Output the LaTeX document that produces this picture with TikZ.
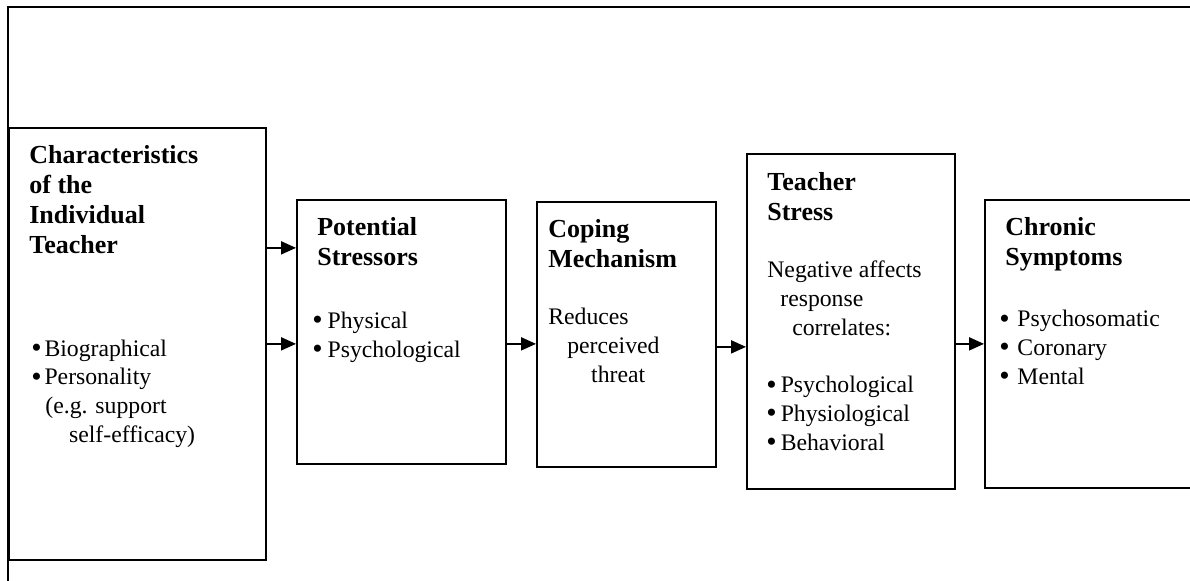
\documentclass[tikz,border=0pt]{standalone}
\usepackage{fontspec}
\setmainfont{Liberation Serif}
\usetikzlibrary{arrows.meta,positioning}
\tikzset
{
    stagebox/.style = {rectangle, draw=black, line width=1pt, anchor=north west, inner sep=0pt},
    heading/.style  = {anchor=base west, align=left, inner sep=0pt, font=\fontsize{14.8}{17}\selectfont\bfseries},
    bodytext/.style = {anchor=base west, align=left, inner sep=0pt, font=\fontsize{13.5}{16.3}\selectfont},
    arrow/.style    = {line width=1pt, -{Triangle[length=8.5pt,width=7.4pt]}}
}
\newcommand\PX{0.02cm}
\newcommand\bul{\raisebox{-0.9pt}{\scalebox{1.25}{\textbullet}}}
\begin{document}
\begin{tikzpicture}[x=\PX, y=-\PX]
   \clip (0,0) rectangle (1190,581);

   % outer frame
   \draw[line width=1.1pt] (8,581) -- (8,7) -- (1190,7);

   % the five stages
   \node (chars)     [stagebox, minimum width=257*\PX, minimum height=432*\PX] at (8,127)   {};
   \node (potential) [stagebox, minimum width=209*\PX, minimum height=264*\PX] at (296,199) {};
   \node (coping)    [stagebox, minimum width=179*\PX, minimum height=265*\PX] at (536,201) {};
   \node (stress)    [stagebox, minimum width=208*\PX, minimum height=335*\PX] at (746,153) {};
   \node (chronic)   [stagebox, minimum width=260*\PX, minimum height=288*\PX] at (984,199) {};

   % texts (placed by the baseline of their last line)
   \node (charshead) [heading]  at ([shift=({21, 126})]chars.north west)    {Characteristics\\of the\\Individual\\Teacher};
   \node (charsbody) [bodytext] at ([shift=({23, 315})]chars.north west)    {\bul\hspace{1.6pt}Biographical\\\bul\hspace{1.6pt}Personality\\\hspace*{8pt}(e.g. support\\\hspace*{21.5pt}self-efficacy)};

   \node (pothead)   [heading]  at ([shift=({21, 66})]potential.north west)  {Potential\\Stressors};
   \node (potbody)   [bodytext] at ([shift=({16, 158})]potential.north west) {\bul\hspace{2.8pt}Physical\\\bul\hspace{2.8pt}Psychological};

   \node (cophead)   [heading]  at ([shift=({12, 66})]coping.north west)    {Coping\\Mechanism};
   \node (copbody)   [bodytext] at ([shift=({12, 181})]coping.north west)   {Reduces\\\hspace*{10.8pt}perceived\\\hspace*{24.4pt}threat};

   \node (strhead)   [heading]  at ([shift=({21, 67})]stress.north west)    {Teacher\\Stress};
   \node (strbody)   [bodytext] at ([shift=({21, 182})]stress.north west)   {Negative affects\\\hspace*{7.4pt}response\\\hspace*{14.2pt}correlates:};
   \node (strlist)   [bodytext] at ([shift=({20, 297})]stress.north west)   {\bul\hspace{2.3pt}Psychological\\\bul\hspace{2.3pt}Physiological\\\bul\hspace{2.3pt}Behavioral};

   \node (chrhead)   [heading]  at ([shift=({21, 66})]chronic.north west)   {Chronic\\Symptoms};
   \node (chrbody)   [bodytext] at ([shift=({15, 185})]chronic.north west)  {\bul\hspace{4.4pt}Psychosomatic\\\bul\hspace{4.4pt}Coronary\\\bul\hspace{4.4pt}Mental};

   % arrows
   \coordinate (upper) at ([shift=({0, -96})]chars.east);
   \coordinate (lower) at ([shift=({0, 3})]chars.east);
   \draw[arrow] (upper)                        -- (potential.west |- upper);
   \draw[arrow] (chars.east)                   -- (potential.west |- chars.east);
   \draw[arrow] (potential.east |- chars.east) -- (coping.west |- chars.east);
   \draw[arrow] (coping.east |- lower)         -- (stress.west |- lower);
   \draw[arrow] (stress.east |- chars.east)    -- (chronic.west |- chars.east);
\end{tikzpicture}
\end{document}
